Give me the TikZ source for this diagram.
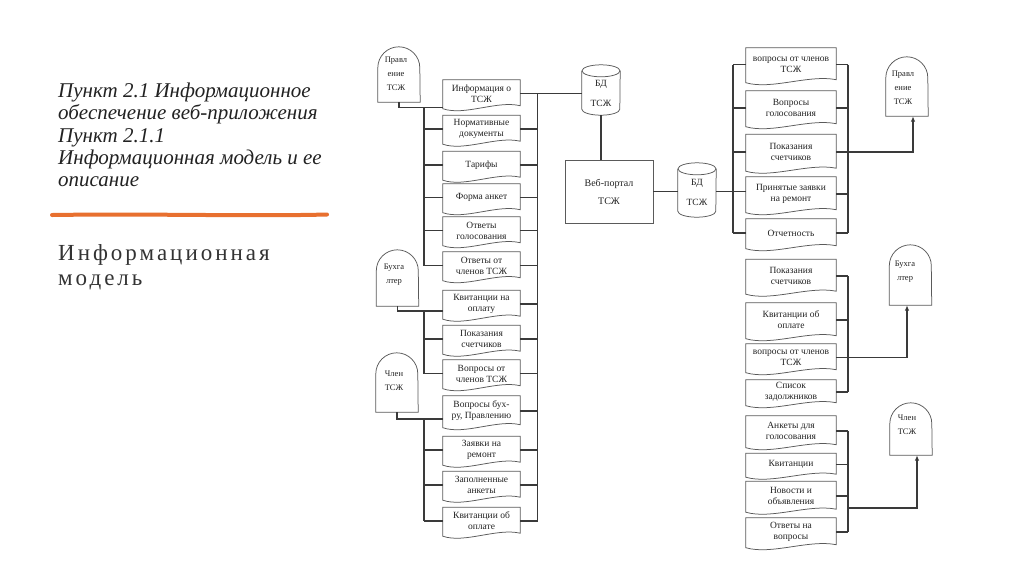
\documentclass[tikz,border=0pt]{standalone}
\usepackage{fontspec}
\setmainfont{Liberation Serif}[ItalicFont={Liberation Serif Italic}, BoldFont={Liberation Serif Bold}]
\newfontfamily\subserif{Liberation Serif}[LetterSpace=13]
\usetikzlibrary{arrows.meta,calc}
\definecolor{accent}{HTML}{E8702F}
\definecolor{ink}{HTML}{222222}
\definecolor{wirec}{HTML}{3A3A3A}
\definecolor{outc}{HTML}{5A5A5A}
\tikzset{
  ldoc/.style={minimum width=77pt, minimum height=27pt, inner sep=0pt, align=center, font=\fontsize{9.5}{11}\selectfont, text=ink},
  rdoc/.style={ldoc, minimum width=90pt},
  outl/.style={draw=outc, line width=0.75pt},
  wire/.style={draw=wirec, line width=1.1pt},
  arr/.style={wire, -{Latex[length=5.5pt,width=4.5pt]}},
  actor/.style={minimum width=42pt, inner sep=0pt},
  actortext/.style={font=\fontsize{8.5}{14}\selectfont, align=center, inner sep=0pt, text=ink},
  cyl/.style={minimum width=38pt, inner sep=0pt},
  cyltext/.style={align=center, inner sep=0pt, font=\fontsize{9.5}{20}\selectfont, text=ink},
  titl/.style={anchor=base west, inner sep=0pt, font=\itshape\fontsize{21}{22}\selectfont, text=ink},
  subt/.style={anchor=base west, inner sep=0pt, font=\subserif\fontsize{23}{27}\selectfont, text=black!80},
}
\newcommand\docout[1]{%
  \draw[outl] (#1.north west) -- (#1.north east) -- ([yshift=1.5pt]#1.south east)
    .. controls ($(#1.south east)!0.3!(#1.south west)+(0pt,7pt)$) and ($(#1.south east)!0.72!(#1.south west)+(0pt,-9pt)$) .. ([yshift=-1.5pt]#1.south west) -- cycle;}
\newcommand\actout[1]{%
  \draw[outl] (#1.south west) -- ([yshift=-21pt]#1.north west) arc[start angle=180,end angle=360,radius=21] -- (#1.south east) -- cycle;}
\newcommand\cylout[1]{%
  \draw[outl] ([yshift=-6pt]#1.north west) -- ([yshift=6pt]#1.south west) arc[start angle=180,end angle=0,x radius=19,y radius=6] -- ([yshift=-6pt]#1.north east);
  \draw[outl] ([yshift=-6pt]#1.north) ellipse[x radius=19,y radius=6];}
\begin{document}
\begin{tikzpicture}[x=1pt,y=-1pt]
\fill[white] (0,0) rectangle (1024,574);
\useasboundingbox (0,0) rectangle (1024,574);

% title block
\node[titl] (T1) at (58,97) {Пункт 2.1 Информационное};
\node[titl] (T2) at (58,119.5) {обеспечение веб-приложения};
\node[titl] (T3) at (58,142) {Пункт 2.1.1};
\node[titl] (T4) at (58,164) {Информационная модель и ее};
\node[titl] (T5) at (58,186) {описание};
\draw[accent, line width=4pt, line cap=round] (52,215) .. controls (150,213.5) and (250,216.5) .. (327,214.5);
\node[subt] (S1) at (58,260) {Информационная};
\node[subt] (S2) at (58,285) {модель};

% bus x positions
\coordinate (lbx) at (424,0);
\coordinate (rbx) at (537.5,0);
\coordinate (rlbx) at (733,0);
\coordinate (rrbx) at (848,0);

% left documents
\node[ldoc] (L1) at (481.5,93.5) {Информация о\\ТСЖ};
\node[ldoc] (L2) at (481.5,129) {Нормативные\\документы};
\node[ldoc] (L3) at (481.5,165) {Тарифы};
\node[ldoc] (L4) at (481.5,197.5) {Форма анкет};
\node[ldoc] (L5) at (481.5,230.5) {Ответы\\голосования};
\node[ldoc] (L6) at (481.5,265.5) {Ответы от\\членов ТСЖ};
\node[ldoc] (L7) at (481.5,304) {Квитанции на\\оплату};
\node[ldoc] (L8) at (481.5,339) {Показания\\счетчиков};
\node[ldoc] (L9) at (481.5,373.5) {Вопросы от\\членов ТСЖ};
\node[ldoc, minimum height=30pt] (L10) at (481.5,411) {Вопросы бух-\\ру, Правлению};
\node[ldoc] (L11) at (481.5,450) {Заявки на\\ремонт};
\node[ldoc] (L12) at (481.5,485) {Заполненные\\анкеты};
\node[ldoc] (L13) at (481.5,521) {Квитанции об\\оплате};

% right documents
\node[rdoc, minimum height=33pt] (R1) at (791,64.5) {вопросы от членов\\ТСЖ};
\node[rdoc, minimum height=34pt] (R2) at (791,108) {Вопросы\\голосования};
\node[rdoc, minimum height=35pt] (R3) at (791,152) {Показания\\счетчиков};
\node[rdoc, minimum height=34pt] (R4) at (791,194) {Принятые заявки\\на ремонт};
\node[rdoc, minimum height=28pt] (R5) at (791,233) {Отчетность};
\node[rdoc, minimum height=33pt] (R6) at (791,276) {Показания\\счетчиков};
\node[rdoc, minimum height=34pt] (R7) at (791,320) {Квитанции об\\оплате};
\node[rdoc, minimum height=27pt] (R8) at (791,357.5) {вопросы от членов\\ТСЖ};
\node[rdoc, minimum height=24pt] (R9) at (791,392) {Список\\задолжников};
\node[rdoc, minimum height=30pt] (R10) at (791,431) {Анкеты для\\голосования};
\node[rdoc, minimum height=22pt] (R11) at (791,464.5) {Квитанции};
\node[rdoc, minimum height=29pt] (R12) at (791,496) {Новости и\\объявления};
\node[rdoc, minimum height=28pt] (R13) at (791,532) {Ответы на\\вопросы};

\foreach \n in {L1,L2,L3,L4,L5,L6,L7,L8,L9,L10,L11,L12,L13,R1,R2,R3,R4,R5,R6,R7,R8,R9,R10,R11,R12,R13} {\docout{\n}}

% actors
\node[actor, minimum height=55pt] (A1) at (399,74.5) {};
\node[actor, minimum height=56pt] (A2) at (397.5,278) {};
\node[actor, minimum height=59pt] (A3) at (397,382.5) {};
\node[actor, minimum height=59pt] (A4) at (907,86.5) {};
\node[actor, minimum height=60pt] (A5) at (910.5,275) {};
\node[actor, minimum height=52pt] (A6) at (911,429) {};
\foreach \n in {A1,A2,A3,A4,A5,A6} {\actout{\n}}
\node[actortext] (A1t) at (396,73.5) {Правл\\ение\\ТСЖ};
\node[actortext] (A2t) at (394,274.5) {Бухга\\лтер};
\node[actortext] (A3t) at (394,381) {Член\\ТСЖ};
\node[actortext] (A4t) at (903,87.5) {Правл\\ение\\ТСЖ};
\node[actortext] (A5t) at (905,271.5) {Бухга\\лтер};
\node[actortext] (A6t) at (907,424.5) {Член\\ТСЖ};

% databases and portal
\node[cyl, minimum height=50pt] (B1) at (601,90) {};
\node[cyl, minimum height=54pt] (B2) at (697,190) {};
\cylout{B1}
\cylout{B2}
\node[cyltext] (B1t) at (601,93) {БД\\ТСЖ};
\node[cyltext] (B2t) at (697,192.5) {БД\\ТСЖ};
\node[draw=outc, line width=0.8pt, minimum width=88pt, minimum height=63pt, align=center, inner sep=0pt, font=\fontsize{10}{18}\selectfont, text=ink] (W) at (609,191.5) {Веб-портал\\ТСЖ};

% left column wiring
\draw[wire] (A1.south) |- (L1.south west);
\draw[wire] (L1.south west -| lbx) -- (L6.west -| lbx);
\foreach \i in {2,...,6} {\draw[wire] (L\i.west) -- (L\i.west -| lbx);}
\draw[wire] (A2.south) |- ([yshift=-7pt]L7.west);
\draw[wire] ([yshift=-7pt]L7.west -| lbx) -- (L9.west -| lbx);
\foreach \i in {8,9} {\draw[wire] (L\i.west) -- (L\i.west -| lbx);}
\draw[wire] (A3.south) |- ([yshift=-8pt]L10.west);
\draw[wire] ([yshift=-8pt]L10.west -| lbx) -- (L13.west -| lbx);
\foreach \i in {11,12,13} {\draw[wire] (L\i.west) -- (L\i.west -| lbx);}
\draw[wire] (L1.east) -- (L1.east -| B1.west);
\draw[wire] (L1.east -| rbx) -- (L13.east -| rbx);
\foreach \i in {2,...,13} {\draw[wire] (L\i.east) -- (L\i.east -| rbx);}

% middle
\draw[wire] (B1.south) -- (B1.south |- W.north);
\draw[wire] (W.east) -- (W.east -| B2.west);
\draw[wire] (W.east -| B2.east) -- (W.east -| R4.west);

% right column wiring
\draw[wire] (R1.west -| rlbx) -- (R5.west -| rlbx);
\foreach \i in {1,2,3,5} {\draw[wire] (R\i.west) -- (R\i.west -| rlbx);}
\draw[wire] (R1.east -| rrbx) -- (R5.east -| rrbx);
\foreach \i in {1,2,4,5} {\draw[wire] (R\i.east) -- (R\i.east -| rrbx);}
\draw[arr] (R3.east) -| ([xshift=6pt]A4.south);
\draw[wire] (R6.east -| rrbx) -- (R9.east -| rrbx);
\foreach \i in {6,7,9} {\draw[wire] (R\i.east) -- (R\i.east -| rrbx);}
\draw[arr] (R8.east) -| ([xshift=-3.5pt]A5.south);
\draw[wire] (R10.east -| rrbx) -- (R13.east -| rrbx);
\foreach \i in {10,11,12,13} {\draw[wire] (R\i.east) -- (R\i.east -| rrbx);}
\coordinate (g3) at (848,508);
\draw[arr] (g3) -| ([xshift=6pt]A6.south);
\end{tikzpicture}
\end{document}
